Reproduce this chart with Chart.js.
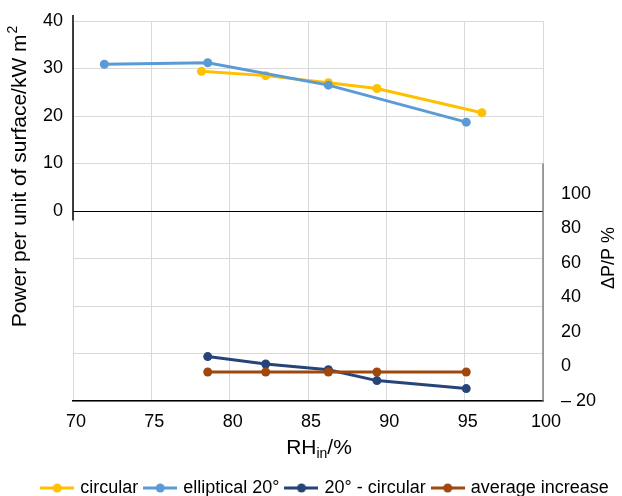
<!DOCTYPE html>
<html>
<head>
<meta charset="utf-8">
<script src="https://cdn.jsdelivr.net/npm/chart.js@4.4.1/dist/chart.umd.min.js"></script>
<style>
  html, body { margin: 0; padding: 0; background: #fff; }
</style>
</head>
<body>
<canvas id="chart" width="622" height="496"></canvas>
<script>
// Power per unit of surface (kW m²) against inlet relative humidity
const circularRH = [78.2, 82.3, 86.3, 89.4, 96.1];
const circularP = [29.4, 28.5, 27.0, 25.8, 20.7];
const ellipticalRH = [72.0, 78.6, 86.3, 95.1];
const ellipticalP = [30.9, 31.2, 26.5, 18.7];

// Relative difference ΔP/P (%), right axis
const diffRH = [78.6, 82.3, 86.3, 89.4, 95.1];
const diffPct = [5.7, 1.4, -1.9, -8.2, -12.8];
const avgIncrease = [-3.2, -3.2, -3.2, -3.2, -3.2];

const seriesNames = ['circular', 'elliptical 20°', '20° - circular', 'average increase'];
const seriesColors = ['#FFC000', '#5B9BD5', '#264478', '#9E480E'];

const FONT = "'Liberation Sans', Arial, Helvetica, sans-serif";

function toPoints(xs, ys) {
    return xs.map((x, i) => ({ x: x, y: ys[i] }));
}

// Small line-with-dot marker used in the legend
function legendMarker(color) {
    const c = document.createElement('canvas');
    c.width = 34;
    c.height = 12;
    const g = c.getContext('2d');
    g.strokeStyle = color;
    g.lineWidth = 3;
    g.beginPath();
    g.moveTo(0, 6);
    g.lineTo(34, 6);
    g.stroke();
    g.fillStyle = color;
    g.beginPath();
    g.arc(17, 6, 4.5, 0, Math.PI * 2);
    g.fill();
    return c;
}
const markers = seriesColors.map(legendMarker);

function lineSet(i, data, axis, order) {
    return {
        label: seriesNames[i],
        data: data,
        yAxisID: axis,
        borderColor: seriesColors[i],
        backgroundColor: seriesColors[i],
        borderWidth: 3,
        pointRadius: 4.5,
        pointHoverRadius: 4.5,
        pointBorderWidth: 0,
        tension: 0,
        order: order
    };
}

// fixed box size for a vertical scale, without the extra label padding above and below
function fixWidth(w) {
    return (scale) => {
        scale.width = w;
        scale.paddingTop = 0;
        scale.paddingBottom = 0;
    };
}

// Axis lines that only cover part of the plot, plus the axis titles
const axisDecor = {
    id: 'axisDecor',
    beforeDatasetsDraw(chart) {
        const { ctx, chartArea, scales } = chart;
        ctx.save();
        ctx.lineWidth = 1.5;
        ctx.strokeStyle = '#000';
        ctx.beginPath();
        ctx.moveTo(chartArea.left, chartArea.top - 6);
        ctx.lineTo(chartArea.left, scales.y.getPixelForValue(-2));
        ctx.stroke();
        ctx.strokeStyle = '#7f7f7f';
        ctx.beginPath();
        ctx.moveTo(chartArea.right, scales.y.getPixelForValue(10));
        ctx.lineTo(chartArea.right, chartArea.bottom);
        ctx.stroke();
        ctx.restore();
    },
    afterDraw(chart) {
        const { ctx, chartArea } = chart;
        ctx.save();
        ctx.fillStyle = '#000';
        ctx.textBaseline = 'middle';
        ctx.textAlign = 'left';

        // left title with superscript
        const big = '21px ' + FONT, small = '14px ' + FONT;
        ctx.font = big;
        const t1 = 'Power per unit of surface/kW m';
        const w1 = ctx.measureText(t1).width;
        ctx.font = small;
        const w2 = ctx.measureText('2').width;
        ctx.translate(20, 177);
        ctx.rotate(-Math.PI / 2);
        let sx = -(w1 + w2) / 2;
        ctx.font = big;
        ctx.fillText(t1, sx, 0);
        ctx.font = small;
        ctx.fillText('2', sx + w1 + 1, -7);
        ctx.setTransform(1, 0, 0, 1, 0, 0);

        // right title
        ctx.font = '18px ' + FONT;
        ctx.textAlign = 'center';
        ctx.translate(609, 258);
        ctx.rotate(-Math.PI / 2);
        ctx.fillText('ΔP/P %', 0, 0);
        ctx.setTransform(1, 0, 0, 1, 0, 0);

        // x title with subscript
        ctx.textAlign = 'left';
        ctx.font = big;
        const a = ctx.measureText('RH').width;
        const c = ctx.measureText('/%').width;
        ctx.font = small;
        const b = ctx.measureText('in').width;
        const cx = (chartArea.left + chartArea.right) / 2 + 11;
        const ty = 448;
        sx = cx - (a + b + c) / 2;
        ctx.font = big;
        ctx.fillText('RH', sx, ty);
        ctx.font = small;
        ctx.fillText('in', sx + a, ty + 6);
        ctx.font = big;
        ctx.fillText('/%', sx + a + b, ty);
        ctx.restore();
    }
};

new Chart(document.getElementById('chart'), {
    type: 'line',
    data: {
        datasets: [
            lineSet(0, toPoints(circularRH, circularP), 'y', 4),
            lineSet(1, toPoints(ellipticalRH, ellipticalP), 'y', 3),
            lineSet(2, toPoints(diffRH, diffPct), 'y2', 2),
            lineSet(3, toPoints(diffRH, avgIncrease), 'y2', 1)
        ]
    },
    options: {
        responsive: false,
        animation: false,
        layout: { padding: { top: 21, left: 30, right: 0, bottom: 0 } },
        plugins: {
            tooltip: { enabled: false },
            legend: {
                position: 'bottom',
                maxHeight: 25,
                labels: {
                    usePointStyle: true,
                    pointStyleWidth: 28,
                    padding: 8,
                    color: '#000',
                    font: { family: FONT, size: 18 },
                    sort: (a, b) => a.datasetIndex - b.datasetIndex,
                    generateLabels(chart) {
                        const items = Chart.defaults.plugins.legend.labels.generateLabels(chart);
                        items.forEach((item) => { item.pointStyle = markers[item.datasetIndex]; });
                        return items;
                    }
                }
            }
        },
        scales: {
            x: {
                type: 'linear',
                min: 70,
                max: 100,
                afterFit(scale) { scale.height = 70; },
                ticks: { stepSize: 5, padding: 10, labelOffset: 3, color: '#000', font: { family: FONT, size: 18 } },
                grid: { color: '#d9d9d9', drawTicks: false },
                border: { display: true, color: '#000', width: 1.5 }
            },
            y: {
                position: 'left',
                min: -40,
                max: 40,
                afterFit: fixWidth(43),
                ticks: {
                    stepSize: 10,
                    padding: 10,
                    color: '#000',
                    font: { family: FONT, size: 18 },
                    callback: (v) => (v >= 0 ? v : '')
                },
                grid: {
                    drawTicks: false,
                    color: (ctx) => (ctx.tick && ctx.tick.value === 0 ? '#000' : '#d9d9d9')
                },
                border: { display: false }
            },
            y2: {
                position: 'right',
                min: -20,
                max: 200,
                afterFit: fixWidth(79),
                ticks: {
                    stepSize: 20,
                    padding: 18,
                    color: '#000',
                    font: { family: FONT, size: 18 },
                    callback: (v) => (v > 100 ? null : (v < 0 ? '– ' + Math.abs(v) : v))
                },
                grid: { display: false, drawTicks: false },
                border: { display: false }
            }
        }
    },
    plugins: [axisDecor]
});
</script>
</body>
</html>
